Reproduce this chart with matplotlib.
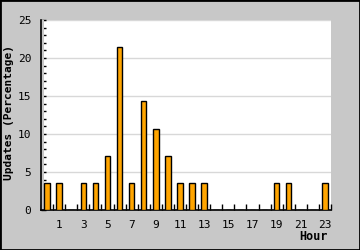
import numpy as np
import matplotlib
matplotlib.use("Agg")
import matplotlib.pyplot as plt
from matplotlib.patches import Rectangle

# hourly share of updates (percent)
hours = list(range(24))
updates = [3.57, 3.57, 0, 3.57, 3.57, 7.14, 21.43, 3.57, 14.29, 10.71, 7.14, 3.57,
           3.57, 3.57, 0, 0, 0, 0, 0, 3.57, 3.57, 0, 0, 3.57]
hour_labels = [str(h) for h in range(1, 24, 2)]

bg = "#c8c8c8"
font = "DejaVu Sans Mono"

fig = plt.figure(figsize=(3.6, 2.5), dpi=100, facecolor=bg)
ax = fig.add_axes([41 / 360, 40 / 250, 290 / 360, 190 / 250])
ax.set_facecolor("white")

ax.bar(hours, updates, width=0.45, color="#ffa500", edgecolor="black",
       linewidth=1.0, zorder=3)

ax.set_xlim(-0.5, 23.5)
ax.set_ylim(0, 25)
# small grey strip between the axis line and the white area
ax.axvspan(-0.5, -0.25, color=bg, lw=0, zorder=1.5)

ax.set_axisbelow(True)
ax.yaxis.grid(True, color="#d8d8d8", linewidth=1.0)
ax.set_yticks(np.arange(0, 26, 5))
ax.set_yticks(np.arange(0, 26, 1), minor=True)
ax.set_xticks(range(1, 24, 2))
ax.set_xticklabels(hour_labels)
ax.set_xticks(np.arange(-0.5, 24, 1), minor=True)

ax.tick_params(axis="y", which="both", direction="in", length=3.4, width=1,
               pad=7, labelsize=8, color="black")
ax.tick_params(axis="x", which="major", length=0, pad=7, labelsize=8)
ax.tick_params(axis="x", which="minor", direction="in", length=4, width=1)
for lab in ax.get_xticklabels() + ax.get_yticklabels():
    lab.set_family(font)

for s in ["top", "right"]:
    ax.spines[s].set_visible(False)
for s in ["left", "bottom"]:
    ax.spines[s].set_linewidth(1.2)

fig.text(9 / 360, 1 - 112 / 250, "Updates (Percentage)", rotation=90,
         ha="center", va="center", family=font, weight="bold", fontsize=8)
fig.text(328 / 360, 1 - 236 / 250, "Hour", ha="right", va="center",
         family=font, weight="bold", fontsize=8.5)

fig.patches.append(Rectangle((0, 0), 1, 1, transform=fig.transFigure,
                             fill=False, edgecolor="black", linewidth=2))

fig.savefig("out.png", dpi=100, facecolor=bg)
